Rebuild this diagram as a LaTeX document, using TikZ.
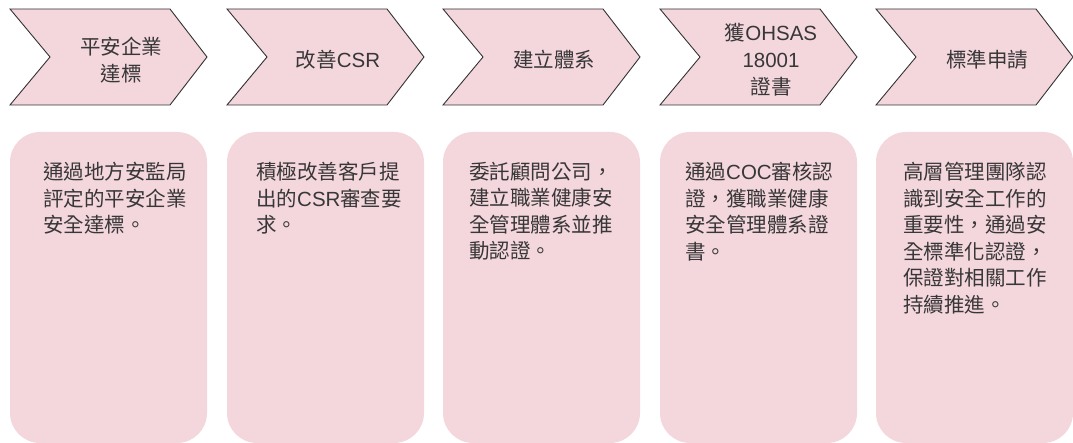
\documentclass[tikz,border=0pt]{standalone}
\usepackage{fontspec}
\setmainfont{Liberation Sans}
\newfontfamily\cjk{Noto Sans CJK TC}
\definecolor{pinkfill}{RGB}{244,214,221}
\definecolor{txtgray}{RGB}{55,55,55}
\definecolor{edgegray}{RGB}{50,50,50}
\tikzset{
  chevbox/.style={fill=pinkfill, draw=edgegray, line width=0.9pt, line join=miter},
  cardbox/.style={fill=pinkfill, draw=none, rounded corners=30pt},
  chevtext/.style={inner sep=0pt, align=center, text=txtgray, font=\fontsize{20.5}{27}\selectfont},
  cardtext/.style={inner sep=0pt, align=left, anchor=north west, text=txtgray, font=\fontsize{20.5}{26.5}\selectfont},
}
\newcommand\mychev[2]{%
  \draw[chevbox] (#1,9) -- ++(160,0) -- ++(37,48) -- ++(-37,48) -- ++(-160,0) -- ++(40,-48) -- cycle;
  \coordinate (#2) at (#1+111,60);
}
\newcommand\mycard[2]{%
  \fill[cardbox] (#1,132) rectangle ++(197,311);
}
\begin{document}
\begin{tikzpicture}[x=1pt,y=-1pt]
\useasboundingbox (0,0) rectangle (1073,443);
\clip (0,0) rectangle (1073,443);
% chevrons
\mychev{10}{c1}
\mychev{227}{c2}
\mychev{443}{c3}
\mychev{660}{c4}
\mychev{876}{c5}
\node[chevtext] (t1) at (c1) {{\cjk 平安企業}\\{\cjk 達標}};
\node[chevtext] (t2) at (c2) {{\cjk 改善}CSR};
\node[chevtext] (t3) at (c3) {{\cjk 建立體系}};
\node[chevtext] (t4) at (c4) {{\cjk 獲}OHSAS\\18001\\{\cjk 證書}};
\node[chevtext] (t5) at (c5) {{\cjk 標準申請}};
% cards
\mycard{10}{b1}
\mycard{227}{b2}
\mycard{443}{b3}
\mycard{660}{b4}
\mycard{876}{b5}
\node[cardtext] (d1) at (43,162) {{\cjk 通過地方安監局}\\{\cjk 評定的平安企業}\\{\cjk 安全達標。}};
\node[cardtext] (d2) at (256,162) {{\cjk 積極改善客戶提}\\{\cjk 出的}CSR{\cjk 審查要}\\{\cjk 求。}};
\node[cardtext] (d3) at (469,162) {{\cjk 委託顧問公司，}\\{\cjk 建立職業健康安}\\{\cjk 全管理體系並推}\\{\cjk 動認證。}};
\node[cardtext] (d4) at (685,162) {{\cjk 通過}COC{\cjk 審核認}\\{\cjk 證，獲職業健康}\\{\cjk 安全管理體系證}\\{\cjk 書。}};
\node[cardtext] (d5) at (903,162) {{\cjk 高層管理團隊認}\\{\cjk 識到安全工作的}\\{\cjk 重要性，通過安}\\{\cjk 全標準化認證，}\\{\cjk 保證對相關工作}\\{\cjk 持續推進。}};
\end{tikzpicture}
\end{document}
